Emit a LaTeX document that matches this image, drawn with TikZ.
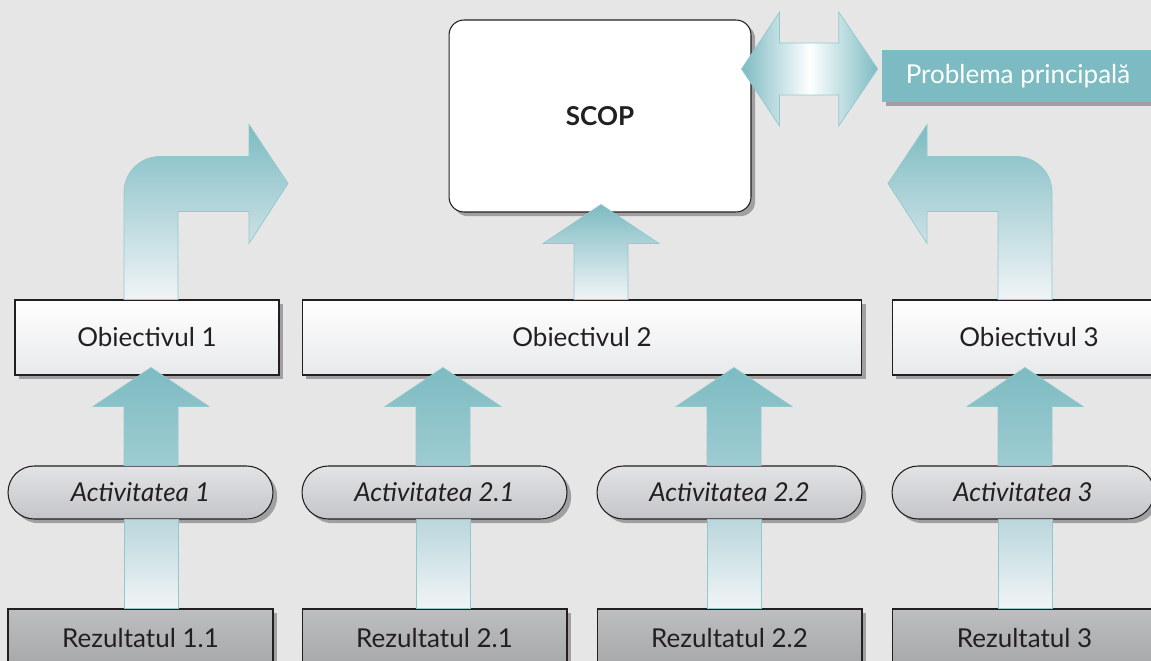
\documentclass[tikz,border=0pt]{standalone}
\usepackage{fontspec}
\setmainfont{Lato}
\usepackage{tikz}
\usetikzlibrary{calc, shadows}
\definecolor{bggray}{RGB}{230,230,230}
\definecolor{flowteal}{RGB}{125,187,194}
\definecolor{flowline}{RGB}{146,201,205}
\definecolor{flowpale}{RGB}{240,244,246}
\definecolor{flowmist}{RGB}{186,215,220}
\definecolor{textdark}{RGB}{35,31,32}
\definecolor{objgray}{RGB}{231,233,234}
\definecolor{acttop}{RGB}{226,227,229}
\definecolor{actbot}{RGB}{196,197,200}
\definecolor{restop}{RGB}{189,190,192}
\definecolor{resbot}{RGB}{166,167,169}
\definecolor{shadowgray}{RGB}{160,160,162}
\newcommand{\labelfont}{\fontsize{14.8}{17}\selectfont}
\tikzset{
  boxshadow/.style={drop shadow={shadow xshift=2.4pt, shadow yshift=-2.4pt,
                    fill=shadowgray, opacity=1}},
  goalbox/.style={draw=textdark, line width=0.6pt, rounded corners=8.5pt,
                  fill=white, minimum width=6.04cm, minimum height=3.84cm,
                  font=\labelfont\bfseries, text=textdark, boxshadow},
  problembox/.style={fill=flowteal, minimum width=5.44cm, minimum height=1.04cm,
                     font=\labelfont, text=white, boxshadow},
  objbox/.style={draw=textdark, line width=0.6pt, top color=white,
                 bottom color=objgray, minimum height=1.5cm,
                 font=\labelfont, text=textdark, boxshadow},
  actpill/.style={draw=textdark, line width=0.6pt, rounded corners=15pt,
                  top color=acttop, bottom color=actbot, minimum width=5.3cm,
                  minimum height=1.06cm, font=\labelfont\itshape,
                  text=textdark, boxshadow},
  resbox/.style={draw=textdark, line width=0.6pt, top color=restop,
                 bottom color=resbot, minimum width=5.3cm, minimum height=1.16cm,
                 font=\labelfont, text=textdark, boxshadow},
  flowup/.style={top color=flowteal, bottom color=flowteal!75!white,
                 draw=flowline, line width=0.4pt},
  flowtop/.style={top color=flowteal, bottom color=flowpale,
                  draw=flowline, line width=0.4pt},
  flowlow/.style={top color=flowmist, bottom color=flowpale,
                  draw=flowline, line width=0.4pt},
  flowboth/.style={left color=flowteal, right color=flowteal,
                   middle color=white, draw=flowline, line width=0.4pt},
}
% block arrow pointing up: column, start anchor, target anchor
\newcommand{\blockup}[4][flowup]{%
  \path[#1] ($(#2 |- #3)+(-27,0)$) -- ($(#2 |- #4)+(-27,31)$)
    -- ($(#2 |- #4)+(-58,31)$) -- ($(#2 |- #4)+(0,-8)$)
    -- ($(#2 |- #4)+(58,31)$) -- ($(#2 |- #4)+(27,31)$)
    -- ($(#2 |- #3)+(27,0)$) -- cycle;}
% bent arrow: base point, direction (1 right, -1 left)
\newcommand{\bentarrow}[2]{%
  \begin{scope}[shift={(#1)}, xscale=#2]
    \path[flowtop] (-27,0) -- (-27,-107)
      .. controls (-27,-127) and (-11,-143) .. (9,-143)
      -- (98,-143) -- (98,-175) -- (137,-116) -- (98,-56) -- (98,-88)
      -- (27,-88) -- (27,0) -- cycle;
  \end{scope}}
% plain shaft from an activity down to its result
\newcommand{\shaft}[3]{%
  \path[flowlow] ($(#1 |- #2)+(-27,0)$) rectangle ($(#1 |- #3)+(27,0)$);}

\begin{document}
\begin{tikzpicture}[x=0.02cm, y=-0.02cm]
  \useasboundingbox (0,0) rectangle (1151,661);
  \fill[bggray] (0,0) rectangle (1151,661);
  \clip (0,0) rectangle (1151,661);

  % arrow columns
  \coordinate (c0) at (601,0);
  \coordinate (c1) at (151,0);
  \coordinate (c2) at (443,0);
  \coordinate (c3) at (734,0);
  \coordinate (c4) at (1025,0);
  \coordinate (lvl) at (0,69);

  \node[goalbox] (scop) at (600,116) {SCOP};
  \node[problembox] (prob) at (1018,76) {Problema principală};

  \node[objbox, minimum width=5.28cm] (obj1) at (147,337.5) {Obiectivul 1};
  \node[objbox, minimum width=11.2cm] (obj2) at (582,337.5) {Obiectivul 2};
  \node[objbox, minimum width=5.48cm] (obj3) at (1029,337.5) {Obiectivul 3};

  \node[actpill] (act1) at (140.5,492.5) {Activitatea 1};
  \node[actpill] (act21) at (434.5,492.5) {Activitatea 2.1};
  \node[actpill] (act22) at (729.5,492.5) {Activitatea 2.2};
  \node[actpill, minimum width=5.24cm] (act3) at (1023,492.5) {Activitatea 3};

  \node[resbox] (res11) at (140.5,638) {Rezultatul 1.1};
  \node[resbox] (res21) at (434.5,638) {Rezultatul 2.1};
  \node[resbox] (res22) at (729.5,638) {Rezultatul 2.2};
  \node[resbox] (res3) at (1024.5,638) {Rezultatul 3};

  % scop <-> problema
  \coordinate (dl) at ($(scop.east |- lvl)+(-10,0)$);
  \coordinate (dr) at ($(prob.west |- lvl)+(-4,0)$);
  \path[flowboth] (dl) -- ($(dl)+(38,-57)$) -- ($(dl)+(38,-26)$)
    -- ($(dr)+(-39,-26)$) -- ($(dr)+(-39,-57)$) -- (dr)
    -- ($(dr)+(-39,57)$) -- ($(dr)+(-39,26)$) -- ($(dl)+(38,26)$)
    -- ($(dl)+(38,57)$) -- cycle;

  % objectives -> scop
  \blockup[flowtop]{c0}{obj2.north}{scop.south}
  \bentarrow{c1 |- obj1.north}{1}
  \bentarrow{c4 |- obj3.north}{-1}

  % activities -> objectives
  \blockup{c1}{act1.north}{obj1.south}
  \blockup{c2}{act21.north}{obj2.south}
  \blockup{c3}{act22.north}{obj2.south}
  \blockup{c4}{act3.north}{obj3.south}

  % results -> activities
  \shaft{c1}{act1.south}{res11.north}
  \shaft{c2}{act21.south}{res21.north}
  \shaft{c3}{act22.south}{res22.north}
  \shaft{c4}{act3.south}{res3.north}
\end{tikzpicture}
\end{document}
